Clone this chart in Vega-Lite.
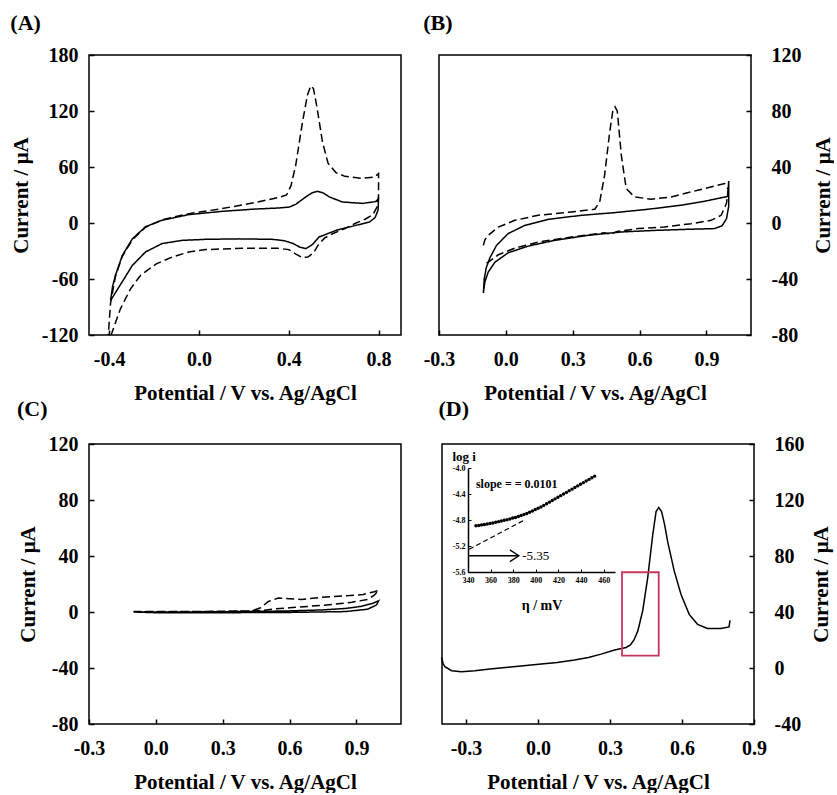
{
  "$schema": "https://vega.github.io/schema/vega-lite/v6.json",
  "background": "white",
  "padding": {"left": 9, "top": 11, "right": 0, "bottom": 0},
  "spacing": -7,
  "config": {
    "font": "Liberation Serif",
    "view": {"stroke": "black", "strokeWidth": 1.5},
    "axis": {
      "grid": false, "domain": false, "tickColor": "black", "tickSize": -5, "tickWidth": 1.5,
      "labelFont": "Liberation Serif", "labelFontSize": 20, "labelFontWeight": "bold", "labelColor": "black",
      "titleFont": "Liberation Serif", "titleFontSize": 21, "titleFontWeight": "bold", "titleColor": "black",
      "labelFlush": false, "labelOverlap": false
    },
    "title": {"font": "Liberation Serif", "fontSize": 22, "fontWeight": "bold", "anchor": "start", "color": "black"},
    "locale": {"number": {"decimal": ".", "thousands": ",", "grouping": [3], "currency": ["$", ""], "minus": "-"}}
  },
  "datasets": {
    "dataA": [
      {"s":"solid","i":1,"x":-0.394,"y":-83},{"s":"solid","i":2,"x":-0.385,"y":-68},{"s":"solid","i":3,"x":-0.372,"y":-56},{"s":"solid","i":4,"x":-0.342,"y":-35},{"s":"solid","i":5,"x":-0.297,"y":-17},{"s":"solid","i":6,"x":-0.238,"y":-4},{"s":"solid","i":7,"x":-0.164,"y":3},{"s":"solid","i":8,"x":-0.045,"y":9},{"s":"solid","i":9,"x":0.104,"y":12.5},{"s":"solid","i":10,"x":0.253,"y":15},{"s":"solid","i":11,"x":0.35,"y":16},{"s":"solid","i":12,"x":0.401,"y":17},{"s":"solid","i":13,"x":0.431,"y":20},{"s":"solid","i":14,"x":0.476,"y":28},{"s":"solid","i":15,"x":0.505,"y":32.5},{"s":"solid","i":16,"x":0.528,"y":34},{"s":"solid","i":17,"x":0.555,"y":32},{"s":"solid","i":18,"x":0.58,"y":28},{"s":"solid","i":19,"x":0.639,"y":22.5},{"s":"solid","i":20,"x":0.729,"y":21},{"s":"solid","i":21,"x":0.788,"y":23},{"s":"solid","i":22,"x":0.8,"y":26},{"s":"solid","i":23,"x":0.798,"y":14},{"s":"solid","i":24,"x":0.785,"y":6},{"s":"solid","i":25,"x":0.76,"y":1},{"s":"solid","i":26,"x":0.699,"y":-2.5},{"s":"solid","i":27,"x":0.61,"y":-8},{"s":"solid","i":28,"x":0.535,"y":-15},{"s":"solid","i":29,"x":0.506,"y":-23},{"s":"solid","i":30,"x":0.476,"y":-27.5},{"s":"solid","i":31,"x":0.45,"y":-26},{"s":"solid","i":32,"x":0.42,"y":-22},{"s":"solid","i":33,"x":0.38,"y":-19},{"s":"solid","i":34,"x":0.327,"y":-17.5},{"s":"solid","i":35,"x":0.178,"y":-17},{"s":"solid","i":36,"x":0.03,"y":-17.5},{"s":"solid","i":37,"x":-0.074,"y":-18.6},{"s":"solid","i":38,"x":-0.164,"y":-22},{"s":"solid","i":39,"x":-0.238,"y":-31},{"s":"solid","i":40,"x":-0.297,"y":-45.5},{"s":"solid","i":41,"x":-0.342,"y":-63},{"s":"solid","i":42,"x":-0.394,"y":-83},
      {"s":"dashed","i":1,"x":-0.41,"y":-140},{"s":"dashed","i":2,"x":-0.394,"y":-86},{"s":"dashed","i":3,"x":-0.372,"y":-57},{"s":"dashed","i":4,"x":-0.342,"y":-36},{"s":"dashed","i":5,"x":-0.297,"y":-18},{"s":"dashed","i":6,"x":-0.238,"y":-4.5},{"s":"dashed","i":7,"x":-0.164,"y":3.5},{"s":"dashed","i":8,"x":-0.045,"y":10},{"s":"dashed","i":9,"x":0.104,"y":15.5},{"s":"dashed","i":10,"x":0.253,"y":22},{"s":"dashed","i":11,"x":0.357,"y":27.5},{"s":"dashed","i":12,"x":0.39,"y":30},{"s":"dashed","i":13,"x":0.41,"y":40},{"s":"dashed","i":14,"x":0.431,"y":62},{"s":"dashed","i":15,"x":0.461,"y":108},{"s":"dashed","i":16,"x":0.483,"y":137},{"s":"dashed","i":17,"x":0.498,"y":147},{"s":"dashed","i":18,"x":0.51,"y":144},{"s":"dashed","i":19,"x":0.525,"y":125},{"s":"dashed","i":20,"x":0.55,"y":87},{"s":"dashed","i":21,"x":0.575,"y":64},{"s":"dashed","i":22,"x":0.61,"y":54},{"s":"dashed","i":23,"x":0.65,"y":50},{"s":"dashed","i":24,"x":0.72,"y":48},{"s":"dashed","i":25,"x":0.78,"y":49},{"s":"dashed","i":26,"x":0.8,"y":53},{"s":"dashed","i":27,"x":0.8,"y":30},{"s":"dashed","i":28,"x":0.795,"y":18},{"s":"dashed","i":29,"x":0.775,"y":9},{"s":"dashed","i":30,"x":0.74,"y":4},{"s":"dashed","i":31,"x":0.7,"y":0},{"s":"dashed","i":32,"x":0.65,"y":-6},{"s":"dashed","i":33,"x":0.6,"y":-11},{"s":"dashed","i":34,"x":0.56,"y":-16},{"s":"dashed","i":35,"x":0.53,"y":-24},{"s":"dashed","i":36,"x":0.51,"y":-32},{"s":"dashed","i":37,"x":0.485,"y":-36.5},{"s":"dashed","i":38,"x":0.46,"y":-37},{"s":"dashed","i":39,"x":0.43,"y":-33},{"s":"dashed","i":40,"x":0.4,"y":-28.5},{"s":"dashed","i":41,"x":0.35,"y":-27},{"s":"dashed","i":42,"x":0.2,"y":-27},{"s":"dashed","i":43,"x":0.03,"y":-28.5},{"s":"dashed","i":44,"x":-0.045,"y":-31},{"s":"dashed","i":45,"x":-0.12,"y":-36.5},{"s":"dashed","i":46,"x":-0.19,"y":-43.7},{"s":"dashed","i":47,"x":-0.26,"y":-56},{"s":"dashed","i":48,"x":-0.305,"y":-70.5},{"s":"dashed","i":49,"x":-0.35,"y":-92},{"s":"dashed","i":50,"x":-0.39,"y":-119},{"s":"dashed","i":51,"x":-0.4,"y":-126}
    ],
    "dataB": [
      {"s":"solid","i":1,"x":-0.101,"y":-50},{"s":"solid","i":2,"x":-0.097,"y":-40},{"s":"solid","i":3,"x":-0.088,"y":-32},{"s":"solid","i":4,"x":-0.072,"y":-25},{"s":"solid","i":5,"x":-0.042,"y":-16},{"s":"solid","i":6,"x":0.01,"y":-7.6},{"s":"solid","i":7,"x":0.085,"y":-1.7},{"s":"solid","i":8,"x":0.19,"y":2.6},{"s":"solid","i":9,"x":0.339,"y":5.5},{"s":"solid","i":10,"x":0.488,"y":7.4},{"s":"solid","i":11,"x":0.637,"y":9.8},{"s":"solid","i":12,"x":0.787,"y":12.7},{"s":"solid","i":13,"x":0.891,"y":15.5},{"s":"solid","i":14,"x":0.996,"y":19},{"s":"solid","i":15,"x":1.0,"y":30},{"s":"solid","i":16,"x":1.0,"y":12},{"s":"solid","i":17,"x":0.99,"y":3},{"s":"solid","i":18,"x":0.97,"y":-2},{"s":"solid","i":19,"x":0.936,"y":-4},{"s":"solid","i":20,"x":0.816,"y":-4.5},{"s":"solid","i":21,"x":0.667,"y":-5.3},{"s":"solid","i":22,"x":0.518,"y":-6.4},{"s":"solid","i":23,"x":0.369,"y":-8.8},{"s":"solid","i":24,"x":0.219,"y":-12.4},{"s":"solid","i":25,"x":0.1,"y":-16.5},{"s":"solid","i":26,"x":0.01,"y":-21.3},{"s":"solid","i":27,"x":-0.049,"y":-28},{"s":"solid","i":28,"x":-0.079,"y":-35},{"s":"solid","i":29,"x":-0.094,"y":-42},{"s":"solid","i":30,"x":-0.101,"y":-50},
      {"s":"dashed","i":1,"x":-0.101,"y":-16},{"s":"dashed","i":2,"x":-0.094,"y":-12},{"s":"dashed","i":3,"x":-0.079,"y":-8.8},{"s":"dashed","i":4,"x":-0.034,"y":-2.9},{"s":"dashed","i":5,"x":0.04,"y":1.9},{"s":"dashed","i":6,"x":0.145,"y":5.5},{"s":"dashed","i":7,"x":0.294,"y":7.9},{"s":"dashed","i":8,"x":0.399,"y":9.8},{"s":"dashed","i":9,"x":0.421,"y":15},{"s":"dashed","i":10,"x":0.443,"y":34},{"s":"dashed","i":11,"x":0.466,"y":65},{"s":"dashed","i":12,"x":0.48,"y":80},{"s":"dashed","i":13,"x":0.49,"y":83},{"s":"dashed","i":14,"x":0.5,"y":80},{"s":"dashed","i":15,"x":0.518,"y":48.5},{"s":"dashed","i":16,"x":0.54,"y":24.6},{"s":"dashed","i":17,"x":0.578,"y":18.6},{"s":"dashed","i":18,"x":0.652,"y":17},{"s":"dashed","i":19,"x":0.742,"y":18.6},{"s":"dashed","i":20,"x":0.861,"y":23.4},{"s":"dashed","i":21,"x":0.981,"y":28.2},{"s":"dashed","i":22,"x":0.998,"y":24},{"s":"dashed","i":23,"x":0.99,"y":14},{"s":"dashed","i":24,"x":0.966,"y":5.5},{"s":"dashed","i":25,"x":0.921,"y":1.9},{"s":"dashed","i":26,"x":0.831,"y":-0.5},{"s":"dashed","i":27,"x":0.712,"y":-2.9},{"s":"dashed","i":28,"x":0.593,"y":-4},{"s":"dashed","i":29,"x":0.5,"y":-6},{"s":"dashed","i":30,"x":0.47,"y":-8},{"s":"dashed","i":31,"x":0.44,"y":-7},{"s":"dashed","i":32,"x":0.294,"y":-10},{"s":"dashed","i":33,"x":0.145,"y":-13.6},{"s":"dashed","i":34,"x":0.04,"y":-18},{"s":"dashed","i":35,"x":-0.034,"y":-22.7},{"s":"dashed","i":36,"x":-0.079,"y":-28},{"s":"dashed","i":37,"x":-0.101,"y":-30}
    ],
    "dataC": [
      {"s":"solid","i":1,"x":-0.1,"y":0},{"s":"solid","i":2,"x":0.1,"y":0},{"s":"solid","i":3,"x":0.3,"y":0.2},{"s":"solid","i":4,"x":0.45,"y":0.4},{"s":"solid","i":5,"x":0.6,"y":0.8},{"s":"solid","i":6,"x":0.75,"y":1.5},{"s":"solid","i":7,"x":0.85,"y":2.5},{"s":"solid","i":8,"x":0.92,"y":4},{"s":"solid","i":9,"x":0.97,"y":6},{"s":"solid","i":10,"x":1.0,"y":8},{"s":"solid","i":11,"x":0.99,"y":5},{"s":"solid","i":12,"x":0.95,"y":2},{"s":"solid","i":13,"x":0.85,"y":0.3},{"s":"solid","i":14,"x":0.6,"y":-0.3},{"s":"solid","i":15,"x":0.3,"y":-0.5},{"s":"solid","i":16,"x":0,"y":-0.5},{"s":"solid","i":17,"x":-0.1,"y":0},
      {"s":"dashed","i":1,"x":-0.1,"y":0.3},{"s":"dashed","i":2,"x":0.2,"y":0.4},{"s":"dashed","i":3,"x":0.43,"y":0.8},{"s":"dashed","i":4,"x":0.47,"y":3},{"s":"dashed","i":5,"x":0.505,"y":7.5},{"s":"dashed","i":6,"x":0.55,"y":10},{"s":"dashed","i":7,"x":0.6,"y":9.5},{"s":"dashed","i":8,"x":0.654,"y":9},{"s":"dashed","i":9,"x":0.743,"y":10.5},{"s":"dashed","i":10,"x":0.85,"y":11.5},{"s":"dashed","i":11,"x":0.93,"y":12.5},{"s":"dashed","i":12,"x":0.98,"y":14.5},{"s":"dashed","i":13,"x":1.0,"y":15.5},{"s":"dashed","i":14,"x":0.98,"y":12},{"s":"dashed","i":15,"x":0.952,"y":9},{"s":"dashed","i":16,"x":0.88,"y":7},{"s":"dashed","i":17,"x":0.8,"y":5.5},{"s":"dashed","i":18,"x":0.684,"y":4},{"s":"dashed","i":19,"x":0.6,"y":3},{"s":"dashed","i":20,"x":0.535,"y":2.2},{"s":"dashed","i":21,"x":0.47,"y":1},{"s":"dashed","i":22,"x":0.3,"y":0.4},{"s":"dashed","i":23,"x":0,"y":0.2},{"s":"dashed","i":24,"x":-0.1,"y":0.3}
    ],
    "dataD": [
      {"i":1,"x":-0.402,"y":7.6},{"i":2,"x":-0.395,"y":3},{"i":3,"x":-0.388,"y":0.9},{"i":4,"x":-0.36,"y":-1.9},{"i":5,"x":-0.319,"y":-2.6},{"i":6,"x":-0.263,"y":-1.9},{"i":7,"x":-0.2,"y":-0.8},{"i":8,"x":-0.125,"y":0.5},{"i":9,"x":-0.05,"y":1.7},{"i":10,"x":0.014,"y":2.8},{"i":11,"x":0.08,"y":4},{"i":12,"x":0.152,"y":5.7},{"i":13,"x":0.21,"y":7.5},{"i":14,"x":0.263,"y":9.9},{"i":15,"x":0.319,"y":12.8},{"i":16,"x":0.367,"y":14.7},{"i":17,"x":0.385,"y":16.5},{"i":18,"x":0.4,"y":20},{"i":19,"x":0.416,"y":26.5},{"i":20,"x":0.436,"y":40.7},{"i":21,"x":0.457,"y":64.4},{"i":22,"x":0.478,"y":95},{"i":23,"x":0.492,"y":111.7},{"i":24,"x":0.503,"y":114.6},{"i":25,"x":0.515,"y":111.7},{"i":26,"x":0.528,"y":102},{"i":27,"x":0.54,"y":90.4},{"i":28,"x":0.568,"y":69},{"i":29,"x":0.596,"y":52.5},{"i":30,"x":0.63,"y":38.3},{"i":31,"x":0.665,"y":31.2},{"i":32,"x":0.706,"y":28.2},{"i":33,"x":0.762,"y":28.2},{"i":34,"x":0.796,"y":29.3},{"i":35,"x":0.8,"y":34}
    ],
    "rectD": [{"x": 0.35, "x2": 0.503, "y": 8.8, "y2": 68.4}],
    "insetPts": [
      {"eta":347,"logi":-4.89},{"eta":349.5,"logi":-4.885},{"eta":352,"logi":-4.875},{"eta":354.5,"logi":-4.87},{"eta":357,"logi":-4.86},{"eta":359.5,"logi":-4.855},{"eta":362,"logi":-4.845},{"eta":364.5,"logi":-4.835},{"eta":367,"logi":-4.825},{"eta":369.5,"logi":-4.815},{"eta":372,"logi":-4.805},{"eta":374.5,"logi":-4.795},{"eta":377,"logi":-4.785},{"eta":379.5,"logi":-4.77},{"eta":382,"logi":-4.76},{"eta":384.5,"logi":-4.745},{"eta":387,"logi":-4.73},{"eta":389.5,"logi":-4.715},{"eta":392,"logi":-4.7},{"eta":394.5,"logi":-4.68},{"eta":397,"logi":-4.66},{"eta":399.5,"logi":-4.64},{"eta":402,"logi":-4.62},{"eta":404.5,"logi":-4.6},{"eta":407,"logi":-4.575},{"eta":409.5,"logi":-4.55},{"eta":412,"logi":-4.525},{"eta":414.5,"logi":-4.5},{"eta":417,"logi":-4.475},{"eta":419.5,"logi":-4.45},{"eta":422,"logi":-4.425},{"eta":424.5,"logi":-4.4},{"eta":427,"logi":-4.375},{"eta":429.5,"logi":-4.35},{"eta":432,"logi":-4.325},{"eta":434.5,"logi":-4.3},{"eta":437,"logi":-4.275},{"eta":439.5,"logi":-4.25},{"eta":442,"logi":-4.225},{"eta":444.5,"logi":-4.2},{"eta":447,"logi":-4.175},{"eta":449.5,"logi":-4.15},{"eta":452,"logi":-4.125}
    ],
    "insetDash": [{"eta":341,"logi":-5.25},{"eta":390,"logi":-4.8}],
    "insetArrow": [
      {"g":"shaft","i":1,"eta":341,"logi":-5.35},{"g":"shaft","i":2,"eta":385,"logi":-5.35},
      {"g":"head","i":1,"eta":377,"logi":-5.26},{"g":"head","i":2,"eta":385,"logi":-5.35},{"g":"head","i":3,"eta":377,"logi":-5.44}
    ],
    "insetText": [
      {"eta":347,"logi":-4.24,"t":"slope = = 0.0101","w":"bold"},
      {"eta":388,"logi":-5.36,"t":"-5.35","w":"normal"}
    ]
  },
  "vconcat": [
    {
      "spacing": 20,
      "hconcat": [
        {
          "title": {"text": "(A)", "offset": 10},
          "width": 312, "height": 280,
          "data": {"name": "dataA"},
          "mark": {"type": "line", "clip": true, "strokeWidth": 1.5, "color": "black"},
          "encoding": {
            "x": {"field": "x", "type": "quantitative", "scale": {"domain": [-0.49, 0.9], "nice": false, "zero": false},
                  "axis": {"values": [-0.4, 0, 0.4, 0.8], "format": ".1f", "title": "Potential / V vs. Ag/AgCl", "labelPadding": 19, "titlePadding": 13}},
            "y": {"field": "y", "type": "quantitative", "scale": {"domain": [-120, 180], "nice": false, "zero": false},
                  "axis": {"values": [-120, -60, 0, 60, 120, 180], "format": "d", "title": "Current / μA", "labelPadding": 16, "titlePadding": 10}},
            "order": {"field": "i", "type": "quantitative"},
            "strokeDash": {"field": "s", "type": "nominal", "scale": {"domain": ["solid", "dashed"], "range": [[1, 0], [8, 4]]}, "legend": null}
          }
        },
        {
          "title": {"text": "(B)", "offset": 10},
          "width": 312, "height": 280,
          "data": {"name": "dataB"},
          "mark": {"type": "line", "clip": true, "strokeWidth": 1.5, "color": "black"},
          "encoding": {
            "x": {"field": "x", "type": "quantitative", "scale": {"domain": [-0.3, 1.1], "nice": false, "zero": false},
                  "axis": {"values": [-0.3, 0, 0.3, 0.6, 0.9], "format": ".1f", "title": "Potential / V vs. Ag/AgCl", "labelPadding": 19, "titlePadding": 13}},
            "y": {"field": "y", "type": "quantitative", "scale": {"domain": [-80, 120], "nice": false, "zero": false},
                  "axis": {"orient": "right", "values": [-80, -40, 0, 40, 80, 120], "format": "d", "title": "Current / μA", "labelAlign": "left", "labelPadding": 25, "titlePadding": 11, "titleAngle": 270, "titleBaseline": "top"}},
            "order": {"field": "i", "type": "quantitative"},
            "strokeDash": {"field": "s", "type": "nominal", "scale": {"domain": ["solid", "dashed"], "range": [[1, 0], [8, 4]]}, "legend": null}
          }
        }
      ]
    },
    {
      "spacing": 35,
      "hconcat": [
        {
          "title": {"text": "(C)", "offset": 13},
          "width": 312, "height": 280,
          "data": {"name": "dataC"},
          "mark": {"type": "line", "clip": true, "strokeWidth": 1.5, "color": "black"},
          "encoding": {
            "x": {"field": "x", "type": "quantitative", "scale": {"domain": [-0.3, 1.1], "nice": false, "zero": false},
                  "axis": {"values": [-0.3, 0, 0.3, 0.6, 0.9], "format": ".1f", "title": "Potential / V vs. Ag/AgCl", "labelPadding": 19, "titlePadding": 13}},
            "y": {"field": "y", "type": "quantitative", "scale": {"domain": [-80, 120], "nice": false, "zero": false},
                  "axis": {"values": [-80, -40, 0, 40, 80, 120], "format": "d", "title": "Current / μA", "labelPadding": 16, "titlePadding": 10}},
            "order": {"field": "i", "type": "quantitative"},
            "strokeDash": {"field": "s", "type": "nominal", "scale": {"domain": ["solid", "dashed"], "range": [[1, 0], [8, 4]]}, "legend": null}
          }
        },
        {
          "title": {"text": "(D)", "offset": 13},
          "width": 312, "height": 280,
          "resolve": {"scale": {"x": "independent", "y": "independent"}, "axis": {"x": "independent", "y": "independent"}},
          "layer": [
            {
              "layer": [
                {
                  "data": {"name": "dataD"},
                  "mark": {"type": "line", "strokeWidth": 1.5, "color": "black"},
                  "encoding": {
                    "x": {"field": "x", "type": "quantitative", "scale": {"domain": [-0.4, 0.9], "nice": false, "zero": false},
                          "axis": {"orient": "bottom", "values": [-0.3, 0, 0.3, 0.6, 0.9], "format": ".1f", "title": "Potential / V vs. Ag/AgCl", "labelPadding": 19, "titlePadding": 13}},
                    "y": {"field": "y", "type": "quantitative", "scale": {"domain": [-40, 160], "nice": false, "zero": false},
                          "axis": {"orient": "right", "values": [-40, 0, 40, 80, 120, 160], "format": "d", "title": "Current / μA", "labelAlign": "left", "labelPadding": 25, "titlePadding": 6, "titleAngle": 270, "titleBaseline": "top"}},
                    "order": {"field": "i", "type": "quantitative"}
                  }
                },
                {
                  "data": {"name": "rectD"},
                  "mark": {"type": "rect", "fill": null, "fillOpacity": 0, "stroke": "#c8355f", "strokeWidth": 1.8},
                  "encoding": {
                    "x": {"field": "x", "type": "quantitative"},
                    "x2": {"field": "x2"},
                    "y": {"field": "y", "type": "quantitative"},
                    "y2": {"field": "y2"}
                  }
                }
              ]
            },
            {
              "layer": [
                {
                  "data": {"name": "insetPts"},
                  "mark": {"type": "point", "filled": true, "size": 12, "color": "black", "opacity": 1},
                  "encoding": {
                    "x": {"field": "eta", "type": "quantitative", "scale": {"domain": [340, 470], "range": [26, 173], "nice": false, "zero": false},
                          "axis": {"orient": "bottom", "offset": -152, "values": [340, 360, 380, 400, 420, 440, 460], "format": "d", "labelFontSize": 8, "tickSize": -3, "tickWidth": 1, "labelPadding": 7, "domain": true, "domainColor": "black", "domainWidth": 1.5, "title": "η  / mV", "titleFontSize": 14, "titlePadding": 14}},
                    "y": {"field": "logi", "type": "quantitative", "scale": {"domain": [-5.6, -4.0], "range": [128, 24], "nice": false, "zero": false},
                          "axis": {"orient": "left", "offset": -26, "values": [-5.6, -5.2, -4.8, -4.4, -4.0], "format": ".1f", "labelFontSize": 8, "tickSize": -3, "tickWidth": 1, "labelPadding": 6, "domain": true, "domainColor": "black", "domainWidth": 1.5, "title": "log i", "titleFontSize": 13, "titleAngle": 0, "titleAlign": "left", "titleBaseline": "middle", "titleX": -16, "titleY": 12}}
                  }
                },
                {
                  "data": {"name": "insetDash"},
                  "mark": {"type": "line", "strokeWidth": 1.2, "color": "black", "strokeDash": [5, 3]},
                  "encoding": {
                    "x": {"field": "eta", "type": "quantitative"},
                    "y": {"field": "logi", "type": "quantitative"}
                  }
                },
                {
                  "data": {"name": "insetArrow"},
                  "mark": {"type": "line", "strokeWidth": 1.3, "color": "black"},
                  "encoding": {
                    "x": {"field": "eta", "type": "quantitative"},
                    "y": {"field": "logi", "type": "quantitative"},
                    "detail": {"field": "g"},
                    "order": {"field": "i", "type": "quantitative"}
                  }
                },
                {
                  "data": {"name": "insetText"},
                  "transform": [{"filter": "datum.w === 'bold'"}],
                  "mark": {"type": "text", "align": "left", "baseline": "middle", "fontSize": 12, "fontWeight": "bold", "font": "Liberation Serif", "color": "black"},
                  "encoding": {
                    "x": {"field": "eta", "type": "quantitative"},
                    "y": {"field": "logi", "type": "quantitative"},
                    "text": {"field": "t"}
                  }
                },
                {
                  "data": {"name": "insetText"},
                  "transform": [{"filter": "datum.w === 'normal'"}],
                  "mark": {"type": "text", "align": "left", "baseline": "middle", "fontSize": 13, "fontWeight": "normal", "font": "Liberation Serif", "color": "black"},
                  "encoding": {
                    "x": {"field": "eta", "type": "quantitative"},
                    "y": {"field": "logi", "type": "quantitative"},
                    "text": {"field": "t"}
                  }
                }
              ]
            }
          ]
        }
      ]
    }
  ]
}
